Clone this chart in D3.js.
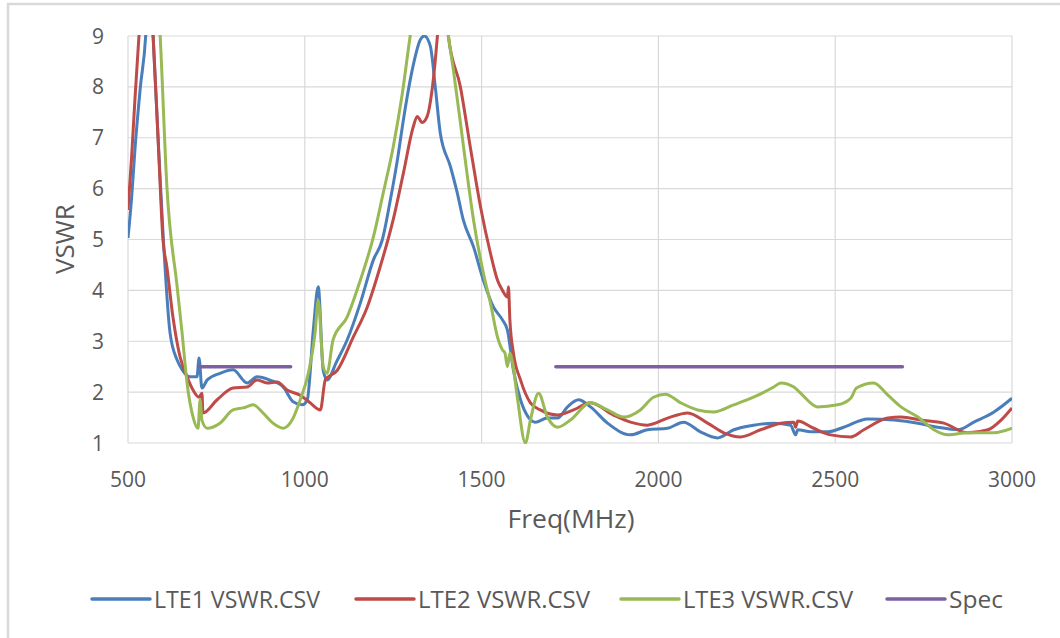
<!DOCTYPE html>
<html>
<head>
<meta charset="utf-8">
<script src="https://cdn.jsdelivr.net/npm/d3@7"></script>
<style>
  body { margin: 0; background: #fff; }
  svg text { font-family: "Open Sans", "Noto Sans", sans-serif; fill: #595959; }
</style>
</head>
<body>
<div id="chart"></div>
<script>
const width = 1060;
const height = 638;

// data (freq in MHz, VSWR)
const lte1Freq = [500, 510, 520, 535, 550, 560, 571, 585, 600, 619, 639, 653, 676, 695, 701, 709, 724, 760, 797, 837, 865, 900, 939, 967, 993, 1007, 1024, 1038, 1052, 1063, 1090, 1120, 1157, 1194, 1219, 1242, 1262, 1279, 1304, 1327, 1338, 1355, 1369, 1383, 1412, 1431, 1448, 1477, 1505, 1533, 1559, 1573, 1590, 1610, 1632, 1652, 1686, 1715, 1743, 1774, 1808, 1856, 1921, 1969, 2026, 2071, 2119, 2167, 2213, 2269, 2326, 2374, 2388, 2394, 2431, 2479, 2524, 2592, 2666, 2734, 2790, 2847, 2892, 2949, 3000];
const lte1Vswr = [5.03, 5.8, 6.8, 8.0, 9.0, 10.5, 9.0, 7.0, 5.0, 3.16, 2.63, 2.44, 2.3, 2.3, 2.67, 2.08, 2.24, 2.37, 2.44, 2.18, 2.3, 2.24, 2.1, 1.81, 1.75, 1.85, 3.22, 4.07, 2.43, 2.24, 2.6, 3.03, 3.75, 4.6, 4.99, 5.78, 6.57, 7.36, 8.34, 8.93, 9.0, 8.8, 8.0, 7.1, 6.43, 5.92, 5.39, 4.86, 4.2, 3.68, 3.42, 3.22, 2.43, 1.85, 1.51, 1.41, 1.49, 1.49, 1.71, 1.85, 1.71, 1.39, 1.16, 1.26, 1.29, 1.41, 1.22, 1.1, 1.26, 1.35, 1.39, 1.35, 1.16, 1.26, 1.22, 1.22, 1.31, 1.47, 1.45, 1.39, 1.31, 1.26, 1.41, 1.61, 1.88];

const lte2Freq = [500, 510, 520, 531, 550, 571, 585, 599, 610, 627, 647, 667, 684, 701, 709, 712, 752, 797, 837, 865, 893, 922, 950, 987, 1015, 1044, 1058, 1092, 1137, 1177, 1213, 1250, 1279, 1307, 1318, 1332, 1346, 1361, 1375, 1390, 1406, 1440, 1468, 1497, 1525, 1545, 1559, 1573, 1576, 1580, 1590, 1610, 1638, 1666, 1715, 1760, 1808, 1873, 1921, 1969, 2026, 2083, 2139, 2185, 2232, 2289, 2346, 2383, 2388, 2394, 2439, 2487, 2544, 2581, 2649, 2686, 2742, 2807, 2875, 2932, 2969, 3000];
const lte2Vswr = [5.58, 6.6, 7.8, 9.0, 11.0, 9.0, 7.0, 4.99, 4.46, 3.48, 2.7, 2.3, 2.04, 1.9, 1.98, 1.59, 1.85, 2.08, 2.1, 2.24, 2.18, 2.2, 2.04, 1.94, 1.79, 1.65, 2.24, 2.43, 3.08, 3.68, 4.46, 5.39, 6.31, 7.22, 7.42, 7.3, 7.42, 8.0, 9.0, 10.5, 9.0, 8.0, 6.82, 5.64, 4.73, 4.2, 4.0, 3.87, 4.07, 3.42, 2.77, 2.24, 1.79, 1.65, 1.55, 1.65, 1.79, 1.55, 1.41, 1.35, 1.49, 1.59, 1.39, 1.2, 1.12, 1.26, 1.39, 1.41, 1.31, 1.43, 1.29, 1.16, 1.12, 1.26, 1.49, 1.51, 1.45, 1.39, 1.2, 1.26, 1.45, 1.69];

const lte3Freq = [500, 560, 591, 610, 639, 653, 667, 684, 698, 704, 709, 724, 760, 797, 826, 854, 882, 910, 939, 964, 987, 1010, 1029, 1038, 1052, 1063, 1080, 1120, 1157, 1194, 1222, 1250, 1276, 1298, 1350, 1406, 1420, 1440, 1460, 1477, 1505, 1525, 1545, 1559, 1566, 1573, 1580, 1587, 1601, 1624, 1638, 1661, 1686, 1715, 1751, 1808, 1856, 1902, 1949, 1986, 2020, 2063, 2111, 2156, 2213, 2269, 2326, 2346, 2383, 2402, 2450, 2507, 2544, 2560, 2609, 2649, 2686, 2734, 2779, 2819, 2875, 2949, 3000];
const lte3Vswr = [14.0, 12.0, 9.0, 6.04, 4.07, 3.16, 2.18, 1.51, 1.29, 1.85, 1.45, 1.29, 1.39, 1.65, 1.69, 1.75, 1.59, 1.39, 1.29, 1.45, 1.85, 2.37, 3.16, 3.81, 2.5, 2.37, 3.03, 3.48, 4.2, 5.05, 5.92, 6.82, 7.88, 9.0, 11.0, 9.0, 8.34, 7.3, 6.23, 5.39, 4.34, 3.75, 3.08, 2.83, 2.77, 2.5, 2.77, 2.6, 1.9, 1.0, 1.45, 1.98, 1.51, 1.31, 1.45, 1.79, 1.65, 1.51, 1.65, 1.9, 1.96, 1.79, 1.65, 1.61, 1.75, 1.9, 2.1, 2.18, 2.1, 1.98, 1.71, 1.75, 1.88, 2.08, 2.18, 1.94, 1.71, 1.51, 1.26, 1.16, 1.2, 1.2, 1.29];

const specBands = [[700, 960], [1710, 2690]];
const specLevel = 2.5;

const seriesNames = ['LTE1 VSWR.CSV', 'LTE2 VSWR.CSV', 'LTE3 VSWR.CSV', 'Spec'];
const seriesColors = ['#4a7ebb', '#be4b48', '#98b954', '#7d60a0'];
const xTicks = [500, 1000, 1500, 2000, 2500, 3000];
const yTicks = [1, 2, 3, 4, 5, 6, 7, 8, 9];

const plot = {left: 128, right: 1012, top: 36, bottom: 443};

const x = d3.scaleLinear().domain([500, 3000]).range([plot.left, plot.right]);
const y = d3.scaleLinear().domain([1, 9]).range([plot.bottom, plot.top]);

const svg = d3.select('#chart').append('svg')
  .attr('width', width)
  .attr('height', height);

// outer chart frame (runs off the right/bottom edge)
svg.append('rect')
  .attr('x', 8).attr('y', 4)
  .attr('width', 1080).attr('height', 660)
  .attr('fill', 'none')
  .attr('stroke', '#d9d9d9')
  .attr('stroke-width', 2.5);

// gridlines
const grid = svg.append('g').attr('stroke', '#d9d9d9').attr('stroke-width', 1.2);
grid.selectAll('line.h').data(yTicks).join('line')
  .attr('x1', plot.left).attr('x2', plot.right)
  .attr('y1', d => y(d)).attr('y2', d => y(d));
grid.selectAll('line.v').data(xTicks).join('line')
  .attr('y1', plot.top).attr('y2', plot.bottom)
  .attr('x1', d => x(d)).attr('x2', d => x(d));

// tick labels
svg.append('g').selectAll('text').data(yTicks).join('text')
  .attr('x', 104).attr('y', d => y(d))
  .attr('dy', '0.36em')
  .attr('text-anchor', 'end')
  .attr('font-size', 21)
  .text(d => d);

svg.append('g').selectAll('text').data(xTicks).join('text')
  .attr('x', d => x(d)).attr('y', 479)
  .attr('dy', '0.36em')
  .attr('text-anchor', 'middle')
  .attr('font-size', 21)
  .text(d => d);

// axis titles
svg.append('text')
  .attr('transform', 'translate(65,239) rotate(-90)')
  .attr('text-anchor', 'middle')
  .attr('dy', '0.36em')
  .attr('font-size', 26)
  .text('VSWR');

svg.append('text')
  .attr('x', 571).attr('y', 519)
  .attr('text-anchor', 'middle')
  .attr('dy', '0.36em')
  .attr('font-size', 25)
  .attr('textLength', 127)
  .attr('lengthAdjust', 'spacingAndGlyphs')
  .text('Freq(MHz)');

// clip to plot area
svg.append('clipPath').attr('id', 'plotclip')
  .append('rect')
  .attr('x', plot.left).attr('y', plot.top - 1)
  .attr('width', plot.right - plot.left).attr('height', plot.bottom - plot.top + 2);

const line = d3.line()
  .x(d => x(d[0]))
  .y(d => y(d[1]))
  .curve(d3.curveMonotoneX);

const series = [
  d3.zip(lte1Freq, lte1Vswr),
  d3.zip(lte2Freq, lte2Vswr),
  d3.zip(lte3Freq, lte3Vswr),
];

const lines = svg.append('g').attr('clip-path', 'url(#plotclip)');
lines.selectAll('path.series').data(series).join('path')
  .attr('class', 'series')
  .attr('d', line)
  .attr('fill', 'none')
  .attr('stroke', (d, i) => seriesColors[i])
  .attr('stroke-width', 3)
  .attr('stroke-linejoin', 'round');

lines.selectAll('line.spec').data(specBands).join('line')
  .attr('x1', d => x(d[0])).attr('x2', d => x(d[1]))
  .attr('y1', y(specLevel)).attr('y2', y(specLevel))
  .attr('stroke', seriesColors[3])
  .attr('stroke-width', 3.5)
  .attr('stroke-linecap', 'round');

// legend
const legendX = [92, 356, 621, 887];
const legendTextW = [166, 172, 170, 54];
const legend = svg.append('g').selectAll('g').data(seriesNames).join('g')
  .attr('transform', (d, i) => `translate(${legendX[i]},599)`);
legend.append('line')
  .attr('x1', 0).attr('x2', 58)
  .attr('stroke', (d, i) => seriesColors[i])
  .attr('stroke-width', 3.5)
  .attr('stroke-linecap', 'round');
legend.append('text')
  .attr('x', 62)
  .attr('dy', '0.36em')
  .attr('font-size', 24)
  .attr('textLength', (d, i) => legendTextW[i])
  .attr('lengthAdjust', 'spacingAndGlyphs')
  .text(d => d);
</script>
</body>
</html>
